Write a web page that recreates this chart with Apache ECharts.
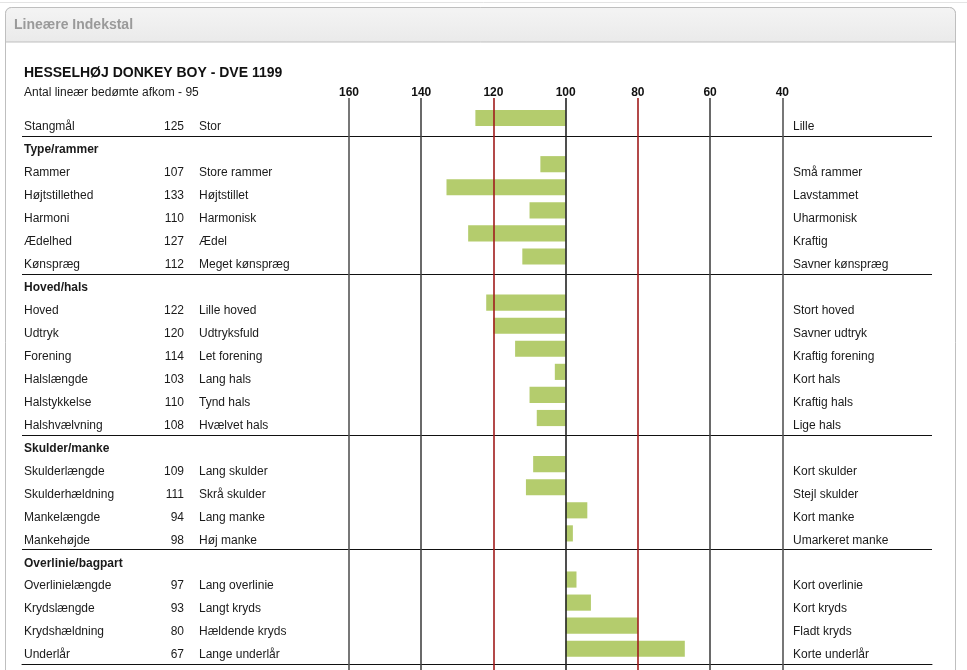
<!DOCTYPE html>
<html lang="da">
<head>
<meta charset="UTF-8">
<title>Lineære Indekstal</title>
<script src="https://cdn.jsdelivr.net/npm/echarts@6/dist/echarts.min.js"></script>
<style>
    html, body { margin: 0; padding: 0; background: #fff; }
    #main { width: 967px; height: 670px; }
</style>
</head>
<body>
<div id="main"></div>
<script>
    // data
    var rowNames = ['Stangmål', 'Type/rammer', 'Rammer', 'Højtstillethed', 'Harmoni', 'Ædelhed', 'Kønspræg',
        'Hoved/hals', 'Hoved', 'Udtryk', 'Forening', 'Halslængde', 'Halstykkelse', 'Halshvælvning',
        'Skulder/manke', 'Skulderlængde', 'Skulderhældning', 'Mankelængde', 'Mankehøjde',
        'Overlinie/bagpart', 'Overlinielængde', 'Krydslængde', 'Krydshældning', 'Underlår'];
    var indexValues = [125, null, 107, 133, 110, 127, 112,
        null, 122, 120, 114, 103, 110, 108,
        null, 109, 111, 94, 98,
        null, 97, 93, 80, 67];
    var leftText = ['Stor', '', 'Store rammer', 'Højtstillet', 'Harmonisk', 'Ædel', 'Meget kønspræg',
        '', 'Lille hoved', 'Udtryksfuld', 'Let forening', 'Lang hals', 'Tynd hals', 'Hvælvet hals',
        '', 'Lang skulder', 'Skrå skulder', 'Lang manke', 'Høj manke',
        '', 'Lang overlinie', 'Langt kryds', 'Hældende kryds', 'Lange underlår'];
    var rightText = ['Lille', '', 'Små rammer', 'Lavstammet', 'Uharmonisk', 'Kraftig', 'Savner kønspræg',
        '', 'Stort hoved', 'Savner udtryk', 'Kraftig forening', 'Kort hals', 'Kraftig hals', 'Lige hals',
        '', 'Kort skulder', 'Stejl skulder', 'Kort manke', 'Umarkeret manke',
        '', 'Kort overlinie', 'Kort kryds', 'Fladt kryds', 'Korte underlår'];
    var groupRows = ['Type/rammer', 'Hoved/hals', 'Skulder/manke', 'Overlinie/bagpart'];
    var scaleMin = 40, scaleMax = 160, scaleStep = 20, baseValue = 100;
    var markedTicks = [120, 80];

    var font = '"Liberation Sans", Arial, Helvetica, sans-serif';
    var textColor = '#1a1a1a';
    var red = '#a01c1c';
    var barColor = '#b4cc6d';

    var barData = [];
    for (var i = 0; i < indexValues.length; i++) {
        if (indexValues[i] != null) barData.push([indexValues[i], i]);
    }

    var myChart = echarts.init(document.getElementById('main'));

    function labelAxis(pos, margin, align, fmt) {
        return {
            gridIndex: 2, type: 'category', data: rowNames, inverse: true, position: pos,
            axisLine: {show: false}, axisTick: {show: false},
            axisLabel: {
                interval: 0, margin: margin, align: align, fontFamily: font, fontSize: 12, color: textColor,
                padding: [4, 0, 0, 0],
                formatter: fmt,
                rich: {b: {fontWeight: 'bold', fontFamily: font, fontSize: 12, color: textColor}}
            },
            splitLine: {show: false}
        };
    }

    var option = {
        animation: false,
        backgroundColor: '#fff',
        graphic: {
            elements: [
                {type: 'line', z: -10, shape: {x1: 0, y1: 2.5, x2: 967, y2: 2.5}, style: {stroke: '#e4e4e4', lineWidth: 1}},
                {type: 'rect', z: -10, shape: {x: 5.5, y: 7.5, width: 950, height: 700, r: [6, 6, 0, 0]},
                    style: {fill: '#fff', stroke: '#bfbfbf', lineWidth: 1}},
                {type: 'rect', z: -9, shape: {x: 5.5, y: 7.5, width: 950, height: 34.5, r: [6, 6, 0, 0]},
                    style: {
                        fill: new echarts.graphic.LinearGradient(0, 0, 0, 1, [
                            {offset: 0, color: '#f4f4f4'}, {offset: 1, color: '#eaeaea'}]),
                        stroke: '#bfbfbf', lineWidth: 1
                    }}
            ]
        },
        title: [
            {
                text: 'Lineære Indekstal', left: 14, top: 17, padding: 0,
                textStyle: {fontFamily: font, fontSize: 14, fontWeight: 'bold', color: '#9a9a9a', lineHeight: 16}
            },
            {
                text: 'HESSELHØJ DONKEY BOY - DVE 1199',
                subtext: 'Antal lineær bedømte afkom - 95',
                left: 24, top: 65, padding: 0, itemGap: 5,
                textStyle: {fontFamily: font, fontSize: 14, fontWeight: 'bold', color: '#111', lineHeight: 16},
                subtextStyle: {fontFamily: font, fontSize: 12, color: textColor, lineHeight: 14}
            }
        ],
        grid: [
            {left: 349, right: 184.7, top: 98, bottom: 0, outerBoundsMode: 'none'},
            {left: 349, right: 184.7, top: 106.5, bottom: 9.7, outerBoundsMode: 'none'},
            {left: 22, right: 35, top: 113.5, bottom: 5.5, outerBoundsMode: 'none'}
        ],
        xAxis: [
            {
                gridIndex: 0, type: 'value', min: scaleMin, max: scaleMax, interval: scaleStep,
                inverse: true, position: 'top', z: 5,
                axisLine: {show: false}, axisTick: {show: false},
                axisLabel: {
                    margin: -1, fontFamily: font, fontSize: 12, fontWeight: 'bold',
                    color: function (v) { return markedTicks.indexOf(v) >= 0 ? red : '#111'; }
                },
                splitLine: {
                    show: true,
                    lineStyle: {color: ['#555', '#444', red, '#222', red, '#444', '#555'], width: 1.6}
                }
            },
            {gridIndex: 1, type: 'value', min: scaleMin, max: scaleMax, inverse: true, show: false},
            {
                gridIndex: 2, type: 'value', position: 'bottom',
                axisLine: {show: true, lineStyle: {color: '#111', width: 1}},
                axisTick: {show: false}, axisLabel: {show: false}, splitLine: {show: false}
            }
        ],
        yAxis: [
            {gridIndex: 0, type: 'value', show: false},
            {gridIndex: 1, type: 'category', data: rowNames, inverse: true, show: false},
            (function () {
                var ax = labelAxis('left', -2, 'left', function (v) {
                    return groupRows.indexOf(v) >= 0 ? '{b|' + v + '}' : v;
                });
                ax.splitLine = {
                    show: true,
                    interval: function (idx) { return groupRows.indexOf(rowNames[idx]) >= 0; },
                    lineStyle: {color: '#111', width: 1}
                };
                return ax;
            })(),
            labelAxis('left', -162, 'right', function (v, i) {
                return indexValues[i] == null ? '' : String(indexValues[i]);
            }),
            labelAxis('left', -177, 'left', function (v, i) { return leftText[i]; }),
            labelAxis('right', -139, 'left', function (v, i) { return rightText[i]; })
        ],
        series: [
            {
                type: 'custom', xAxisIndex: 1, yAxisIndex: 1, z: 2,
                data: barData,
                encode: {x: 0, y: 1},
                renderItem: function (params, api) {
                    var a = api.coord([baseValue, api.value(1)]);
                    var b = api.coord([api.value(0), api.value(1)]);
                    var h = api.size([0, 1])[1] * 0.7;
                    return {
                        type: 'rect',
                        shape: {x: Math.min(a[0], b[0]), y: a[1] - h / 2, width: Math.abs(a[0] - b[0]), height: h},
                        style: {fill: barColor}
                    };
                }
            }
        ]
    };
    myChart.setOption(option);
</script>
</body>
</html>
